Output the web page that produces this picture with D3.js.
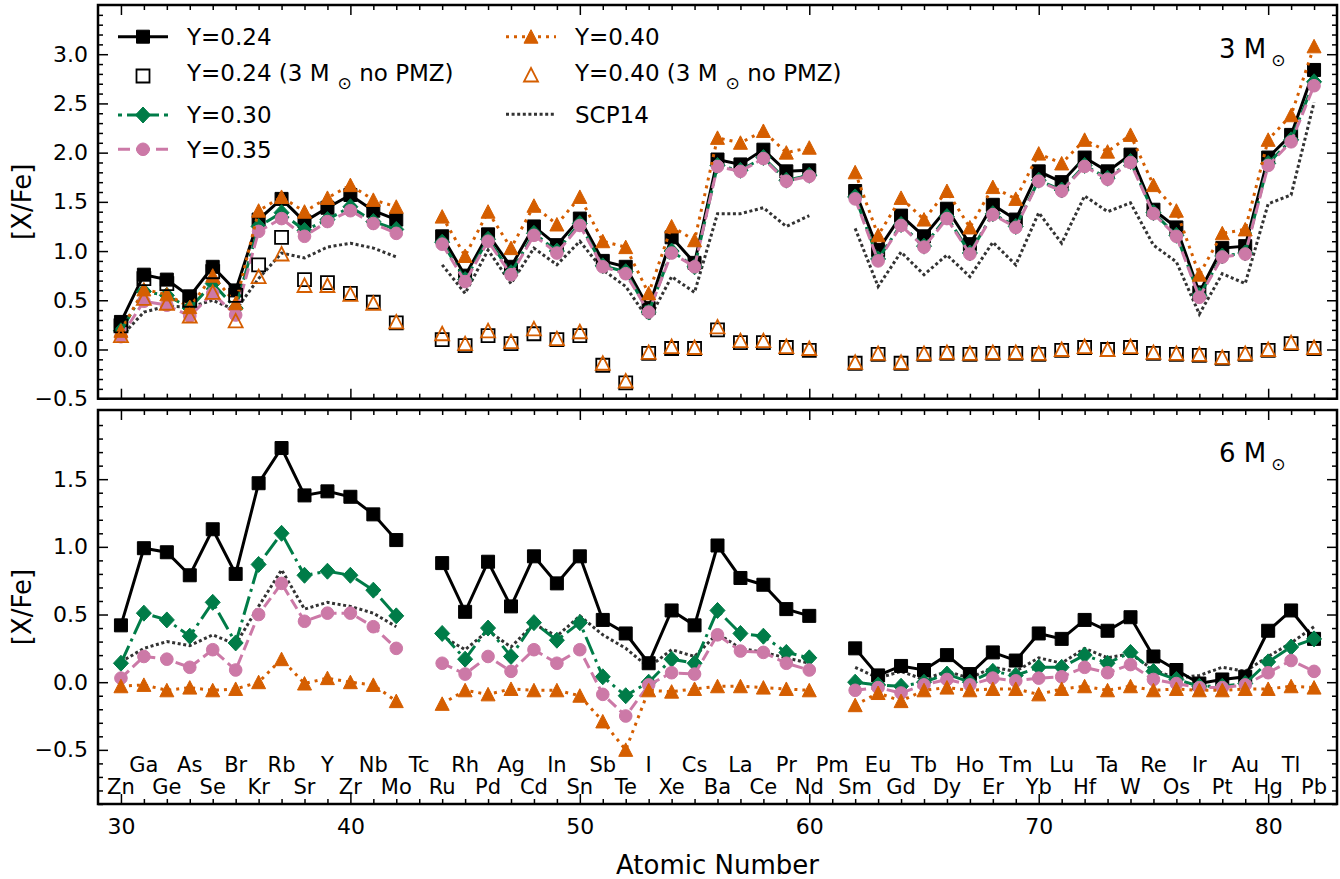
<!DOCTYPE html>
<html>
<head>
<meta charset="utf-8">
<script src="https://cdn.jsdelivr.net/npm/d3@7"></script>
<style>
  body { margin: 0; background: #fff; }
  svg { font-family: "DejaVu Sans", sans-serif; }
</style>
</head>
<body>
<div id="vis"></div>
<script>
const FRAME_WIDTH = 1340;
const FRAME_HEIGHT = 879;

// atomic numbers 30..82, Tc (43) and Pm (61) have no values
const Z = d3.range(30, 83);
const ELEMENTS = ["Zn","Ga","Ge","As","Se","Br","Kr","Rb","Sr","Y","Zr","Nb","Mo","Tc",
  "Ru","Rh","Pd","Ag","Cd","In","Sn","Sb","Te","I","Xe","Cs","Ba","La","Ce","Pr","Nd",
  "Pm","Sm","Eu","Gd","Tb","Dy","Ho","Er","Tm","Yb","Lu","Hf","Ta","W","Re","Os","Ir",
  "Pt","Au","Hg","Tl","Pb"];

// 3 Msun panel
const TOP_Y024 = [0.28,0.76,0.71,0.54,0.84,0.60,1.32,1.53,1.30,1.44,1.57,1.41,1.32,null,1.15,0.75,1.17,0.84,1.25,1.06,1.33,0.90,0.84,0.42,1.14,0.88,1.93,1.88,2.03,1.81,1.82,null,1.61,1.01,1.36,1.15,1.43,1.07,1.47,1.32,1.81,1.70,1.95,1.81,1.98,1.42,1.24,0.58,1.03,1.05,1.95,2.18,2.84];
const TOP_Y030 = [0.19,0.59,0.55,0.42,0.67,0.42,1.25,1.39,1.21,1.32,1.45,1.30,1.22,null,1.09,0.71,1.12,0.78,1.18,1.00,1.28,0.85,0.79,0.38,1.00,0.84,1.87,1.82,1.95,1.72,1.77,null,1.55,0.92,1.27,1.05,1.35,0.98,1.38,1.25,1.72,1.62,1.87,1.74,1.91,1.39,1.16,0.55,0.95,0.98,1.89,2.13,2.72];
const TOP_Y035 = [0.13,0.49,0.45,0.34,0.57,0.35,1.20,1.33,1.15,1.30,1.41,1.28,1.18,null,1.07,0.69,1.10,0.76,1.16,0.98,1.26,0.84,0.77,0.38,0.98,0.84,1.86,1.81,1.94,1.71,1.76,null,1.53,0.90,1.26,1.04,1.33,0.97,1.37,1.24,1.71,1.61,1.86,1.73,1.90,1.38,1.15,0.53,0.94,0.97,1.87,2.11,2.68];
const TOP_Y040 = [0.19,0.61,0.56,0.43,0.75,0.47,1.41,1.55,1.40,1.54,1.67,1.52,1.45,null,1.35,0.95,1.40,1.03,1.46,1.27,1.55,1.10,1.04,0.57,1.25,1.11,2.15,2.10,2.22,2.00,2.05,null,1.80,1.16,1.54,1.32,1.61,1.24,1.65,1.53,1.99,1.89,2.13,2.01,2.18,1.67,1.41,0.76,1.18,1.22,2.13,2.38,3.08];
const TOP_SCP14 = [0.13,0.38,0.44,0.43,0.50,0.40,0.72,0.98,0.93,1.04,1.08,1.03,0.94,null,0.86,0.57,1.01,0.67,1.03,0.86,1.10,0.81,0.64,0.30,0.74,0.58,1.38,1.38,1.44,1.25,1.36,null,1.23,0.64,0.99,0.76,0.96,0.74,1.09,0.86,1.39,1.08,1.56,1.40,1.49,1.06,0.89,0.36,0.77,0.67,1.48,1.57,2.51];
const TOP_NOPMZ_024 = [0.24,0.72,0.67,0.50,0.79,0.55,0.86,1.14,0.71,0.68,0.57,0.48,0.27,null,0.10,0.04,0.14,0.06,0.16,0.10,0.14,-0.16,-0.34,-0.04,0.01,0.01,0.20,0.07,0.07,0.02,-0.01,null,-0.14,-0.05,-0.14,-0.05,-0.04,-0.05,-0.04,-0.04,-0.05,-0.01,0.02,0.00,0.02,-0.04,-0.05,-0.06,-0.09,-0.05,-0.01,0.06,0.01];
const TOP_NOPMZ_040 = [0.14,0.52,0.47,0.34,0.58,0.29,0.74,0.97,0.65,0.65,0.56,0.47,0.28,null,0.16,0.06,0.19,0.08,0.21,0.11,0.18,-0.14,-0.32,-0.03,0.03,0.02,0.23,0.09,0.09,0.03,0.01,null,-0.13,-0.04,-0.13,-0.04,-0.03,-0.04,-0.03,-0.03,-0.04,0.00,0.03,0.00,0.03,-0.03,-0.04,-0.05,-0.08,-0.04,0.00,0.07,0.02];

// 6 Msun panel
const BOT_Y024 = [0.42,0.99,0.96,0.79,1.13,0.80,1.47,1.73,1.38,1.41,1.37,1.24,1.05,null,0.88,0.52,0.89,0.56,0.93,0.73,0.93,0.46,0.36,0.14,0.53,0.42,1.01,0.77,0.72,0.54,0.49,null,0.25,0.05,0.12,0.09,0.20,0.06,0.22,0.16,0.36,0.32,0.46,0.38,0.48,0.19,0.09,-0.01,0.02,0.04,0.38,0.53,0.32];
const BOT_Y030 = [0.14,0.51,0.46,0.34,0.59,0.29,0.87,1.10,0.79,0.82,0.79,0.68,0.49,null,0.36,0.17,0.40,0.19,0.44,0.31,0.44,0.04,-0.10,0.00,0.17,0.14,0.53,0.36,0.34,0.22,0.18,null,0.00,-0.02,-0.03,0.00,0.06,0.00,0.08,0.05,0.11,0.11,0.20,0.14,0.22,0.08,0.02,-0.03,-0.03,-0.01,0.15,0.26,0.32];
const BOT_Y035 = [0.03,0.19,0.17,0.11,0.24,0.09,0.50,0.73,0.45,0.51,0.51,0.41,0.25,null,0.14,0.06,0.19,0.08,0.24,0.14,0.24,-0.09,-0.25,-0.02,0.07,0.06,0.35,0.23,0.22,0.14,0.09,null,-0.06,-0.04,-0.08,-0.02,0.02,-0.02,0.03,0.01,0.03,0.04,0.11,0.07,0.13,0.02,-0.01,-0.04,-0.04,-0.02,0.07,0.16,0.08];
const BOT_Y040 = [-0.03,-0.02,-0.06,-0.04,-0.06,-0.05,0.00,0.17,-0.01,0.03,0.00,-0.02,-0.14,null,-0.16,-0.06,-0.09,-0.05,-0.06,-0.06,-0.10,-0.29,-0.50,-0.06,-0.07,-0.05,-0.03,-0.03,-0.04,-0.05,-0.06,null,-0.17,-0.08,-0.14,-0.06,-0.04,-0.06,-0.05,-0.05,-0.09,-0.05,-0.03,-0.06,-0.03,-0.06,-0.05,-0.06,-0.06,-0.05,-0.05,-0.03,-0.04];
const BOT_SCP14 = [0.15,0.25,0.30,0.27,0.35,0.28,0.56,0.83,0.54,0.59,0.56,0.51,0.41,null,0.34,0.24,0.38,0.26,0.43,0.34,0.49,0.35,0.25,0.11,0.24,0.19,0.36,0.25,0.22,0.18,0.14,null,0.11,0.03,0.08,0.02,0.08,0.03,0.11,0.08,0.18,0.14,0.25,0.18,0.21,0.09,0.03,0.05,0.11,0.08,0.19,0.29,0.41];

const X_TICKS = [30, 40, 50, 60, 70, 80];
const TOP_Y_TICKS = [-0.5, 0.0, 0.5, 1.0, 1.5, 2.0, 2.5, 3.0];
const BOT_Y_TICKS = [-0.5, 0.0, 0.5, 1.0, 1.5];

// series looks (legDash = how the short legend sample is dashed)
const STYLES = {
  y024:  {label: "Y=0.24", color: "#000000", dash: null, marker: "square"},
  open24:{label: "Y=0.24 (3 M", sub: true, color: "#000000", marker: "square", open: true},
  y030:  {label: "Y=0.30", color: "#007c48", dash: "19,5,3,5", legDash: "4,5,32,5,4", marker: "diamond"},
  y035:  {label: "Y=0.35", color: "#cc79a7", dash: "11,5", legDash: "12,6,14,6,12", marker: "circle"},
  y040:  {label: "Y=0.40", color: "#d55e00", dash: "3,5", marker: "triangle"},
  open40:{label: "Y=0.40 (3 M", sub: true, color: "#d55e00", marker: "triangle", open: true},
  scp:   {label: "SCP14", color: "#333333", dash: "3,2.6", marker: null}
};

const FRAME = d3.select("#vis")
                .append("svg")
                  .attr("width", FRAME_WIDTH)
                  .attr("height", FRAME_HEIGHT);

const LEFT = 98, RIGHT = 1337;
const X_SCALE = d3.scaleLinear().domain([29, 83]).range([LEFT, RIGHT]);

const PANELS = [
  {top: 5,   bottom: 398.7, scale: d3.scaleLinear().domain([-0.5, 3.5]).range([398.7, 5]),
   ticks: TOP_Y_TICKS, minor: [-5, 35], labels: false},
  {top: 410, bottom: 804,   scale: d3.scaleLinear().domain([-0.9, 2.0]).range([804, 411.5]),
   ticks: BOT_Y_TICKS, minor: [-9, 20], labels: true}
];

function markerPath(type) {
  if (type === "square") return "M-6.5,-6.5H6.5V6.5H-6.5Z";
  if (type === "diamond") return "M0,-8L7.5,0L0,8L-7.5,0Z";
  if (type === "triangle") return "M0,-7L7,6.5L-7,6.5Z";
  if (type === "circle") return d3.symbol(d3.symbolCircle, 125)();
  return null;
}

function drawMarker(g, type, style, x, y) {
  g.append("path")
    .attr("d", markerPath(type))
    .attr("transform", "translate(" + x + "," + y + ")")
    .attr("fill", style.open ? "none" : style.color)
    .attr("stroke", style.color)
    .attr("stroke-width", style.open ? 1.8 : 1);
}

function drawSeries(g, yScale, values, style) {
  const pts = Z.map((z, i) => ({z: z, v: values[i]}));
  if (!style.open) {
    const line = d3.line()
      .defined(d => d.v !== null)
      .x(d => X_SCALE(d.z))
      .y(d => yScale(d.v));
    g.append("path")
      .datum(pts)
      .attr("d", line)
      .attr("fill", "none")
      .attr("stroke", style.color)
      .attr("stroke-width", 3)
      .attr("stroke-dasharray", style.dash);
  }
  if (style.marker) {
    pts.filter(d => d.v !== null).forEach(d => {
      drawMarker(g, style.marker, style, X_SCALE(d.z), yScale(d.v));
    });
  }
}

function drawAxes(p) {
  const minorY = d3.range(p.minor[0], p.minor[1] + 1).filter(d => d % 5 !== 0).map(d => d / 10);
  const minorX = d3.range(30, 83).filter(d => d % 10 !== 0);
  const axes = [
    [d3.axisLeft(p.scale).tickValues(p.ticks).tickSize(-10).tickPadding(10).tickFormat(d3.format(".1f")), LEFT, 0],
    [d3.axisLeft(p.scale).tickValues(minorY).tickSize(-5).tickFormat(""), LEFT, 0],
    [d3.axisRight(p.scale).tickValues(p.ticks).tickSize(-10).tickFormat(""), RIGHT, 0],
    [d3.axisRight(p.scale).tickValues(minorY).tickSize(-5).tickFormat(""), RIGHT, 0],
    [d3.axisTop(X_SCALE).tickValues(X_TICKS).tickSize(-10).tickFormat(""), 0, p.top],
    [d3.axisTop(X_SCALE).tickValues(minorX).tickSize(-5).tickFormat(""), 0, p.top],
    [d3.axisBottom(X_SCALE).tickValues(X_TICKS).tickSize(-10).tickPadding(14)
        .tickFormat(p.labels ? d3.format("d") : ""), 0, p.bottom],
    [d3.axisBottom(X_SCALE).tickValues(minorX).tickSize(-5).tickFormat(""), 0, p.bottom]
  ];
  axes.forEach(a => {
    const g = FRAME.append("g")
      .attr("transform", "translate(" + a[1] + "," + a[2] + ")")
      .call(a[0]);
    g.select(".domain").remove();
    g.selectAll(".tick line").attr("stroke", "#000").attr("stroke-width", 1.5);
    g.selectAll(".tick text").attr("font-size", 22).attr("font-family", "DejaVu Sans").attr("fill", "#000");
  });

  FRAME.append("rect")
    .attr("x", LEFT).attr("y", p.top)
    .attr("width", RIGHT - LEFT).attr("height", p.bottom - p.top)
    .attr("fill", "none").attr("stroke", "#000").attr("stroke-width", 2.5);

  FRAME.append("text")
    .attr("transform", "translate(31," + ((p.top + p.bottom) / 2) + ") rotate(-90)")
    .attr("text-anchor", "middle")
    .attr("font-size", 26)
    .text("[X/Fe]");
}

// mass label like "3 M" with a subscript sun
function massLabel(g, x, y, size, main, rest, subDx) {
  const t = g.append("text").attr("x", x).attr("y", y).attr("font-size", size);
  t.append("tspan").text(main);
  t.append("tspan").attr("font-size", 17).attr("dx", subDx).attr("dy", 7.5).text("\u2299");
  if (rest) t.append("tspan").attr("font-size", size).attr("dy", -7.5).text(rest);
}

// top panel: 3 Msun
const TOP = PANELS[0];
const gTop = FRAME.append("g");
drawSeries(gTop, TOP.scale, TOP_SCP14, STYLES.scp);
drawSeries(gTop, TOP.scale, TOP_Y024, STYLES.y024);
drawSeries(gTop, TOP.scale, TOP_Y030, STYLES.y030);
drawSeries(gTop, TOP.scale, TOP_Y035, STYLES.y035);
drawSeries(gTop, TOP.scale, TOP_Y040, STYLES.y040);
drawSeries(gTop, TOP.scale, TOP_NOPMZ_024, STYLES.open24);
drawSeries(gTop, TOP.scale, TOP_NOPMZ_040, STYLES.open40);
drawAxes(TOP);
massLabel(FRAME, 1219, 58, 26, "3 M", null, 5);

// bottom panel: 6 Msun
const BOT = PANELS[1];
const gBot = FRAME.append("g");
drawSeries(gBot, BOT.scale, BOT_SCP14, STYLES.scp);
drawSeries(gBot, BOT.scale, BOT_Y024, STYLES.y024);
drawSeries(gBot, BOT.scale, BOT_Y030, STYLES.y030);
drawSeries(gBot, BOT.scale, BOT_Y035, STYLES.y035);
drawSeries(gBot, BOT.scale, BOT_Y040, STYLES.y040);
drawAxes(BOT);
massLabel(FRAME, 1219, 462, 26, "6 M", null, 5);

// element names, odd Z on the upper row
FRAME.append("g").selectAll("text")
  .data(Z)
  .enter()
  .append("text")
    .attr("x", d => X_SCALE(d))
    .attr("y", d => (d % 2 === 1) ? 772 : 794)
    .attr("text-anchor", "middle")
    .attr("font-size", 21)
    .text((d, i) => ELEMENTS[i]);

FRAME.append("text")
  .attr("x", (LEFT + RIGHT) / 2)
  .attr("y", 874)
  .attr("text-anchor", "middle")
  .attr("font-size", 26)
  .text("Atomic Number");

// legend, two columns
const LEGEND = [
  {s: STYLES.y024,   x: 118, ty: 45,  hy: 36.7},
  {s: STYLES.open24, x: 118, ty: 81,  hy: 76},
  {s: STYLES.y030,   x: 118, ty: 123, hy: 115},
  {s: STYLES.y035,   x: 118, ty: 158, hy: 149.3},
  {s: STYLES.y040,   x: 506, ty: 45,  hy: 36.7},
  {s: STYLES.open40, x: 506, ty: 81,  hy: 75},
  {s: STYLES.scp,    x: 506, ty: 123, hy: 114.3}
];
const gLeg = FRAME.append("g");
LEGEND.forEach(e => {
  if (!e.s.open) {
    gLeg.append("line")
      .attr("x1", e.x).attr("x2", e.x + 50)
      .attr("y1", e.hy).attr("y2", e.hy)
      .attr("stroke", e.s.color).attr("stroke-width", 3)
      .attr("stroke-dasharray", e.s.legDash || e.s.dash);
  }
  if (e.s.marker) drawMarker(gLeg, e.s.marker, e.s, e.x + 25, e.hy);
  if (e.s.sub) {
    massLabel(gLeg, e.x + 69, e.ty, 23, e.s.label, " no PMZ)", 8);
  } else {
    gLeg.append("text").attr("x", e.x + 69).attr("y", e.ty).attr("font-size", 23).text(e.s.label);
  }
});
</script>
</body>
</html>
